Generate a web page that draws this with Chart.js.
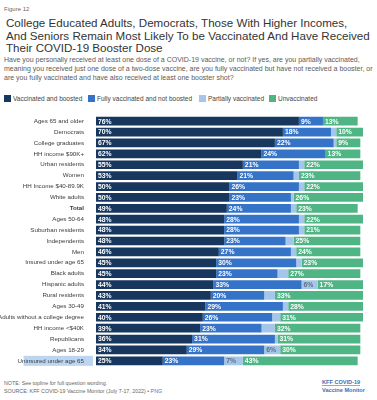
<!DOCTYPE html>
<html><head><meta charset="utf-8">
<script src="https://cdn.jsdelivr.net/npm/chart.js@4"></script>
<style>
body{margin:0;width:377px;height:400px;background:#fff;font-family:"Liberation Sans",Arial,sans-serif;position:relative;overflow:hidden}
.abs{position:absolute;white-space:nowrap}
#fig{left:4px;top:6px;font-size:6px;color:#666}
#title{left:6px;top:17px;font-size:11.6px;line-height:12.5px;color:#333}
#sub{left:4px;top:55px;font-size:7px;line-height:9.2px;color:#5a5a5a}
#legend{left:4px;top:95px;font-size:6.5px;color:#444;height:9px}
#legend span{position:absolute;top:0;white-space:nowrap}
#legend i{display:inline-block;width:7px;height:7px;vertical-align:-1px;margin-right:2px}
#note{left:4px;top:380px;font-size:5.3px;line-height:7.5px;color:#666}
#logo{left:322px;top:378px;font-size:5.6px;line-height:8px;color:#3b6fb3;font-weight:bold}
#chartbox{position:absolute;left:0;top:108px;width:377px;height:266px}
</style></head>
<body>
<div class="abs" id="fig">Figure 12</div>
<div class="abs" id="title">College Educated Adults, Democrats, Those With Higher Incomes,<br>And Seniors Remain Most Likely To be Vaccinated And Have Received<br>Their COVID-19 Booster Dose</div>
<div class="abs" id="sub">Have you personally received at least one dose of a COVID-19 vaccine, or not? If yes, are you partially vaccinated,<br>meaning you received just one dose of a two-dose vaccine, are you fully vaccinated but have not received a booster, or<br>are you fully vaccinated and have also received at least one booster shot?</div>
<div class="abs" id="legend"></div>
<div id="chartbox"><canvas id="c" width="377" height="266"></canvas></div>
<div class="abs" id="note">NOTE: See topline for full question wording.<br>SOURCE: KFF COVID-19 Vaccine Monitor (July 7-17, 2022) • <span style="color:#3b7bd0">PNG</span></div>
<div class="abs" id="logo"><span style="border-bottom:0.6px solid #9ab">KFF COVID-19</span><br>Vaccine Monitor</div>
<script>
const categories = ["Ages 65 and older","Democrats","College graduates","HH income $90K+","Urban residents","Women","HH Income $40-89.9K","White adults","Total","Ages 50-64","Suburban residents","Independents","Men","Insured under age 65","Black adults","Hispanic adults","Rural residents","Ages 30-49","Adults without a college degree","HH income <$40K","Republicans","Ages 18-29","Uninsured under age 65"];
const boosted     = [76,70,67,62,55,53,50,50,49,48,48,48,46,45,45,44,43,41,40,39,36,34,25];
const notBoosted  = [9,18,22,24,21,21,26,23,24,28,28,23,27,30,23,33,20,29,26,23,31,29,23];
const partially   = [0,2,1,0,2,2,2,1,2,2,2,3,2,2,4,6,4,2,3,5,1,6,7];
const unvaccinated= [13,10,9,13,22,23,22,26,23,22,21,25,24,23,27,17,33,28,31,32,31,30,43];
const seriesNames = ["Vaccinated and boosted","Fully vaccinated and not boosted","Partially vaccinated","Unvaccinated"];
const colors = ["#17375e","#3473c8","#a4c6ea","#4fb584"];
const labelColors = ["#fff","#fff","#5f6f82","#fff"];

const leg = document.getElementById('legend');
const legX = [0,84,195,265];
seriesNames.forEach((n,i)=>{
  const s=document.createElement('span');
  s.style.left=legX[i]+'px';
  s.innerHTML='<i style="background:'+colors[i]+'"></i>'+n;
  leg.appendChild(s);
});

const FONT = '"Liberation Sans", Arial, sans-serif';
const labelPlugin = {
  id:'segLabels',
  beforeDraw(chart){
    const y = chart.scales.y, ctx = chart.ctx;
    const idx = categories.indexOf("Uninsured under age 65");
    const py = y.getPixelForValue(idx);
    ctx.save();
    ctx.font = '6.2px ' + FONT;
    const w = ctx.measureText(categories[idx]).width;
    ctx.fillStyle = '#bcd6f2';
    ctx.fillRect(92 - w - 2, py - 5, w + 3, 10);
    ctx.restore();
  },
  afterDatasetsDraw(chart){
    const ctx = chart.ctx;
    ctx.save();
    ctx.font = 'bold 6.8px ' + FONT;
    ctx.textBaseline = 'middle';
    ctx.textAlign = 'left';
    chart.data.datasets.forEach((ds,di)=>{
      const meta = chart.getDatasetMeta(di);
      meta.data.forEach((el,i)=>{
        const v = ds.data[i];
        if(!v || v < 1) return;
        if(di===2 && v < 6) return;
        ctx.fillStyle = labelColors[di];
        const left = Math.min(el.base, el.x);
        ctx.fillText(v+'%', left + 2, el.y + 0.5);
      });
    });
    ctx.restore();
  }
};

new Chart(document.getElementById('c'), {
  type:'bar',
  data:{
    labels: categories,
    datasets:[boosted,notBoosted,partially,unvaccinated].map((d,i)=>({
      label: seriesNames[i], data:d, backgroundColor:colors[i],
      borderWidth:0, categoryPercentage:1, barPercentage:0.8
    }))
  },
  options:{
    indexAxis:'y', responsive:false, animation:false,
    layout:{padding:{left:0,right:14,top:0,bottom:0}},
    plugins:{legend:{display:false}, tooltip:{enabled:false}},
    scales:{
      x:{stacked:true, min:0, max:100, display:false},
      y:{stacked:true,
         grid:{display:false}, border:{display:false},
         afterFit(s){ s.width = 96; },
         ticks:{padding:4, color:'#3a3a3a', autoSkip:false,
           font:(c)=>({family:FONT, size:6.2, weight: categories[c.index]==='Total'?'bold':'normal'})}
      }
    }
  },
  plugins:[labelPlugin]
});
</script>
</body></html>
